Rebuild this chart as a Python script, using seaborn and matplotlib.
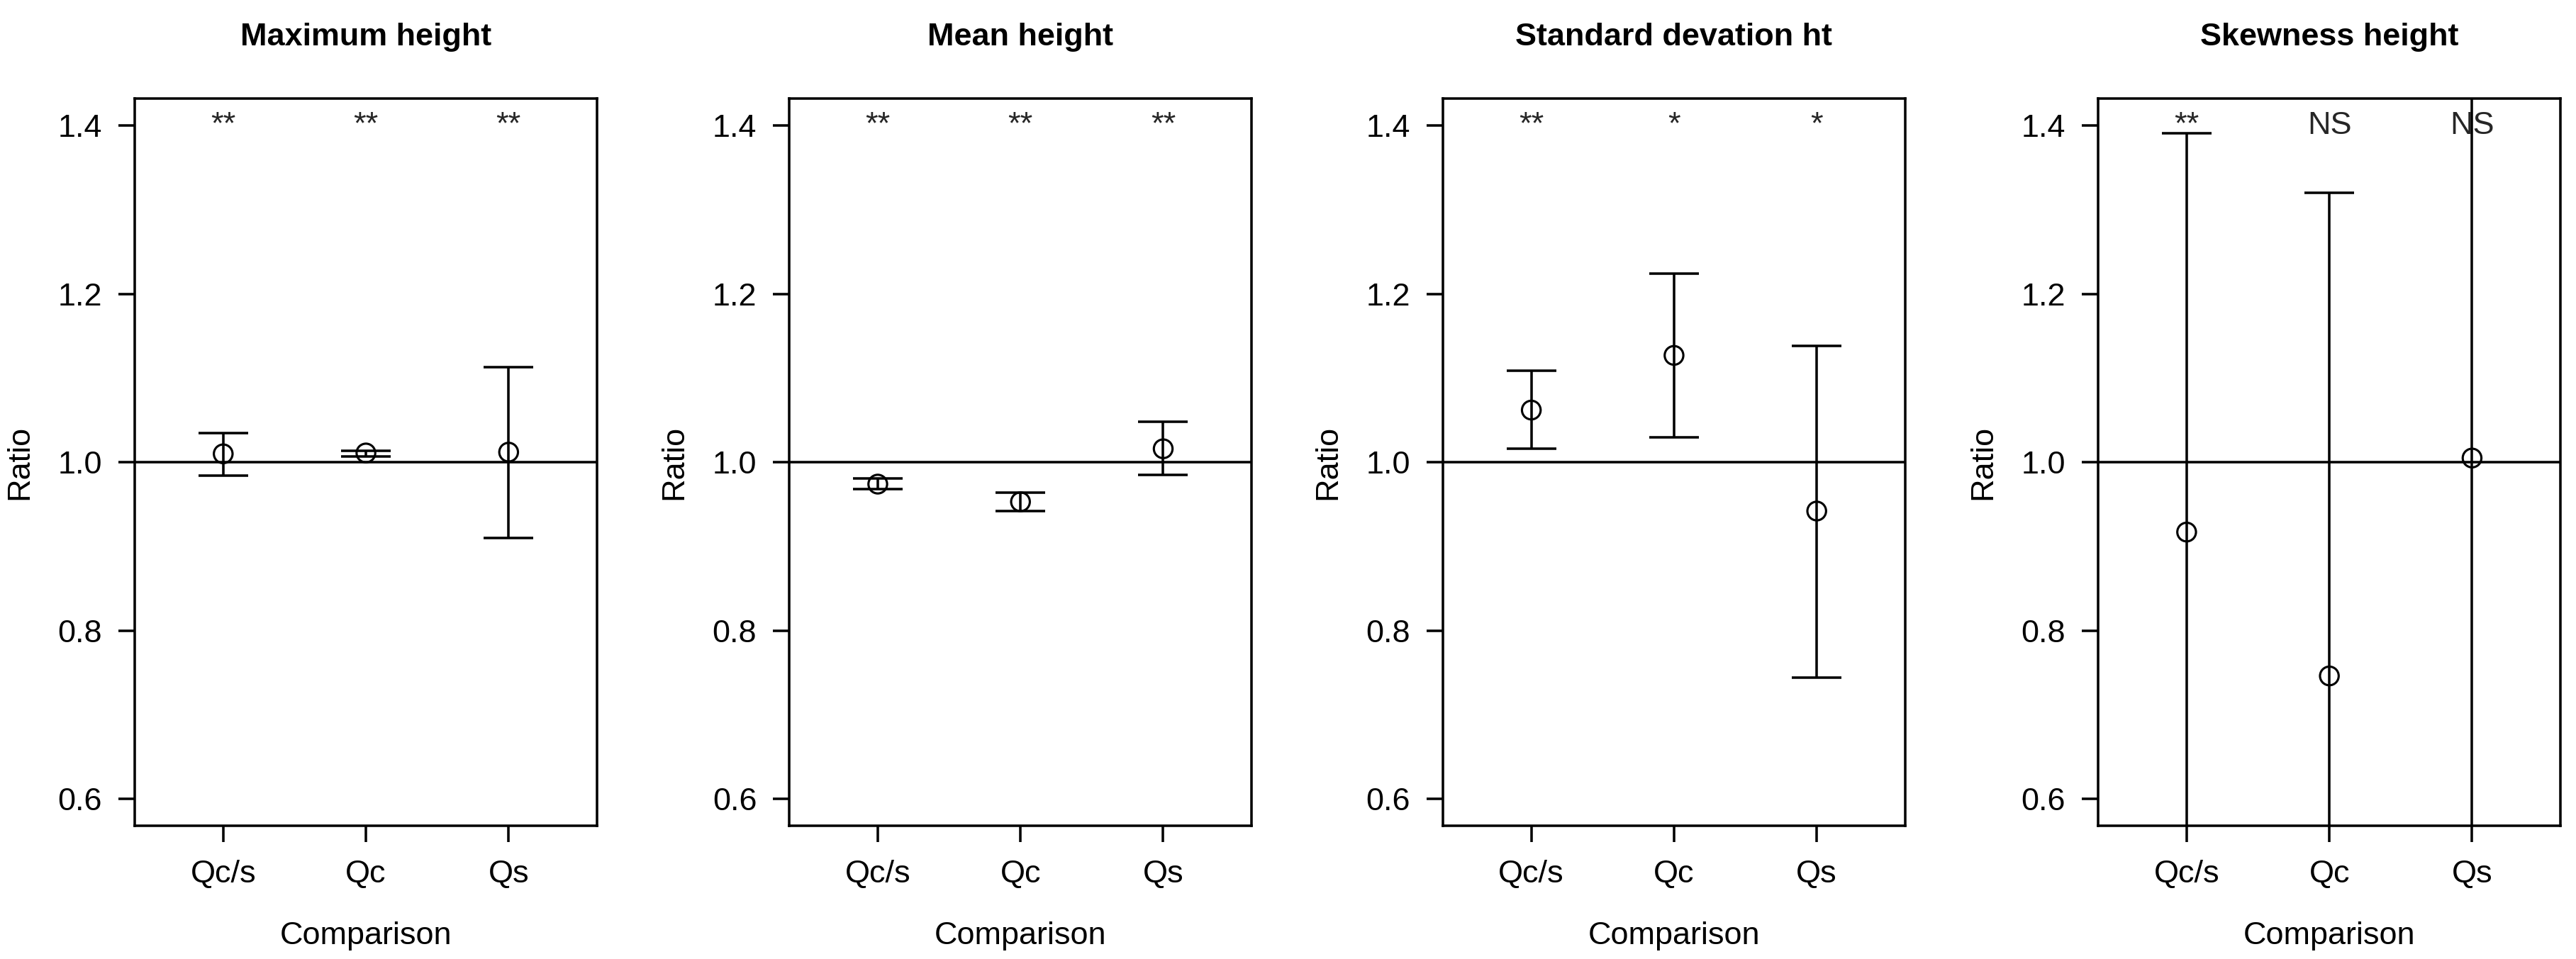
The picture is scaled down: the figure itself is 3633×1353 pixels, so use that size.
import numpy as np
import pandas as pd
import matplotlib
matplotlib.use("Agg")
import matplotlib.pyplot as plt
import seaborn as sns

comparisons = ["Qc/s", "Qc", "Qs"]
titles = ["Maximum height", "Mean height", "Standard devation ht", "Skewness height"]

# ratio, lower and upper limit
max_ratio = [1.010, 1.011, 1.012]
max_lo = [0.984, 1.007, 0.910]
max_hi = [1.035, 1.014, 1.113]
max_sig = ["**", "**", "**"]

mean_ratio = [0.974, 0.953, 1.016]
mean_lo = [0.968, 0.942, 0.985]
mean_hi = [0.981, 0.964, 1.048]
mean_sig = ["**", "**", "**"]

sd_ratio = [1.062, 1.127, 0.942]
sd_lo = [1.016, 1.030, 0.744]
sd_hi = [1.109, 1.224, 1.138]
sd_sig = ["**", "*", "*"]

# lower ends (and the Qs upper end) run off the plot
skew_ratio = [0.917, 0.746, 1.005]
skew_lo = [0.44, 0.17, 0.39]
skew_hi = [1.391, 1.320, 1.62]
skew_sig = ["**", "NS", "NS"]

panels = [
    (max_ratio, max_lo, max_hi, max_sig),
    (mean_ratio, mean_lo, mean_hi, mean_sig),
    (sd_ratio, sd_lo, sd_hi, sd_sig),
    (skew_ratio, skew_lo, skew_hi, skew_sig),
]

sns.set_theme(style="ticks")
plt.rcParams["font.family"] = ["Liberation Sans", "DejaVu Sans"]
plt.rcParams["font.size"] = 10.8

lw = 0.85
fig = plt.figure(figsize=(3633 / 300, 1353 / 300), dpi=300)
lefts = [0.0523, 0.3064, 0.5601, 0.8145]

for i, (ratio, lo, hi, sig) in enumerate(panels):
    ax = fig.add_axes([lefts[i], 0.139, 0.1795, 0.758])
    df = pd.DataFrame({"comparison": comparisons, "pos": np.arange(len(comparisons)),
                       "ratio": ratio, "lo": lo, "hi": hi})

    ax.axhline(1.0, color="black", lw=lw, zorder=1)
    yerr = [df["ratio"] - df["lo"], df["hi"] - df["ratio"]]
    ax.errorbar(df["pos"], df["ratio"], yerr=yerr, fmt="none", ecolor="black",
                elinewidth=lw, capsize=8.4, capthick=lw, zorder=2)
    sns.scatterplot(data=df, x="pos", y="ratio", ax=ax, marker="o", s=40,
                    color="black", facecolors="none", edgecolor="black",
                    linewidth=0.75, zorder=3, legend=False)
    for p, s in zip(df["pos"], sig):
        ax.text(p, 1.4, s, ha="center", va="center", fontsize=10.8)

    ax.set_xlim(-0.62, 2.62)
    ax.set_ylim(0.568, 1.432)
    ax.set_xticks(df["pos"])
    ax.set_xticklabels(comparisons)
    ax.set_yticks([0.6, 0.8, 1.0, 1.2, 1.4])
    ax.set_yticklabels(["0.6", "0.8", "1.0", "1.2", "1.4"])
    ax.tick_params(axis="both", direction="out", length=5.5, width=lw,
                   color="black", labelcolor="black", labelsize=10.8)
    ax.tick_params(axis="x", pad=6)
    ax.tick_params(axis="y", pad=5.5)
    for sp in ax.spines.values():
        sp.set_visible(True)
        sp.set_linewidth(lw)
        sp.set_color("black")

    ax.set_xlabel("Comparison", fontsize=10.8, labelpad=11, color="black")
    ax.set_ylabel("Ratio", fontsize=10.8, labelpad=8, color="black")
    ax.set_title(titles[i], fontsize=10.8, fontweight="bold", pad=18, color="black")

fig.savefig("out.png", dpi=300, facecolor="white")
